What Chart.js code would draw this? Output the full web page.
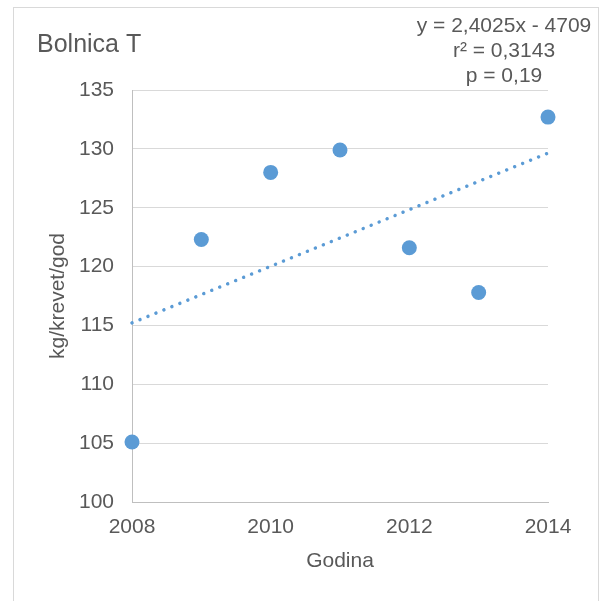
<!DOCTYPE html>
<html><head><meta charset="utf-8">
<script src="https://cdn.jsdelivr.net/npm/chart.js@4"></script>
<style>html,body{margin:0;padding:0;background:#fff}canvas{display:block}</style>
</head><body>
<canvas id="c" width="601" height="601"></canvas>
<script>
const years = [2008, 2009, 2010, 2011, 2012, 2013, 2014];
const values = [105.1, 122.3, 128.0, 129.9, 121.6, 117.8, 132.7];
const trendYears = [2008, 2014];
const trendValues = [115.22, 129.64];
const xTicks = [2008, 2010, 2012, 2014];
const yTicks = [100, 105, 110, 115, 120, 125, 130, 135];
const chartTitle = 'Bolnica T';
const equationLines = ['y = 2,4025x - 4709', 'r² = 0,3143', 'p = 0,19'];
const xTitle = 'Godina';
const yTitle = 'kg/krevet/god';

const FONT = "'Liberation Sans', Arial, sans-serif";
const TEXT = '#595959';
const BLUE = '#5B9BD5';

const decor = {
  id: 'decor',
  beforeDraw(chart) {
    const ctx = chart.ctx;
    ctx.save();
    ctx.fillStyle = '#fff';
    ctx.fillRect(0, 0, chart.width, chart.height);
    ctx.strokeStyle = '#D9D9D9';
    ctx.lineWidth = 1;
    ctx.strokeRect(13.5, 7.5, 585, 620);
    ctx.restore();
  },
  afterDraw(chart) {
    const ctx = chart.ctx;
    ctx.save();
    ctx.fillStyle = TEXT;
    ctx.textBaseline = 'alphabetic';
    ctx.textAlign = 'left';
    ctx.font = '25px ' + FONT;
    ctx.fillText(chartTitle, 37, 52);
    ctx.font = '21px ' + FONT;
    ctx.textAlign = 'center';
    equationLines.forEach((t, i) => ctx.fillText(t, 504, 32 + i * 25));
    ctx.restore();
  }
};

new Chart(document.getElementById('c'), {
  type: 'scatter',
  data: {
    datasets: [
      {
        type: 'line',
        data: trendYears.map((x, i) => ({ x, y: trendValues[i] })),
        borderColor: BLUE,
        borderWidth: 3.5,
        borderDash: [0.01, 8.6],
        borderCapStyle: 'round',
        pointRadius: 0,
        fill: false,
        clip: false,
        order: 0
      },
      {
        data: years.map((x, i) => ({ x, y: values[i] })),
        backgroundColor: BLUE,
        borderWidth: 0,
        pointRadius: 7.5,
        pointHoverRadius: 7.5,
        clip: false,
        order: 1
      }
    ]
  },
  options: {
    responsive: false,
    animation: false,
    events: [],
    layout: { padding: { left: 40, top: 90, right: 53, bottom: 15 } },
    plugins: { legend: { display: false }, tooltip: { enabled: false }, title: { display: false } },
    scales: {
      x: {
        type: 'linear',
        min: xTicks[0],
        max: xTicks[xTicks.length - 1],
        afterBuildTicks: s => { s.ticks = xTicks.map(v => ({ value: v })); },
        afterFit: s => { s.height = 84; },
        grid: { drawOnChartArea: false, drawTicks: false },
        border: { display: true, color: '#BFBFBF', width: 1 },
        ticks: { color: TEXT, font: { family: FONT, size: 21 }, padding: 13, maxRotation: 0, callback: v => String(v) },
        title: { display: true, text: xTitle, color: TEXT, font: { family: FONT, size: 21 }, padding: { top: 0, bottom: 12.4 } }
      },
      y: {
        type: 'linear',
        min: yTicks[0],
        max: yTicks[yTicks.length - 1],
        afterBuildTicks: s => { s.ticks = yTicks.map(v => ({ value: v })); },
        afterFit: s => { s.width = 92; },
        grid: { color: '#D9D9D9', lineWidth: 1, drawTicks: false },
        border: { display: true, color: '#BFBFBF', width: 1 },
        ticks: { color: TEXT, font: { family: FONT, size: 21 }, padding: 18, callback: v => String(v) },
        title: { display: true, text: yTitle, color: TEXT, font: { family: FONT, size: 21 }, padding: { top: 5.4, bottom: 0 } }
      }
    }
  },
  plugins: [decor]
});
</script>
</body></html>
